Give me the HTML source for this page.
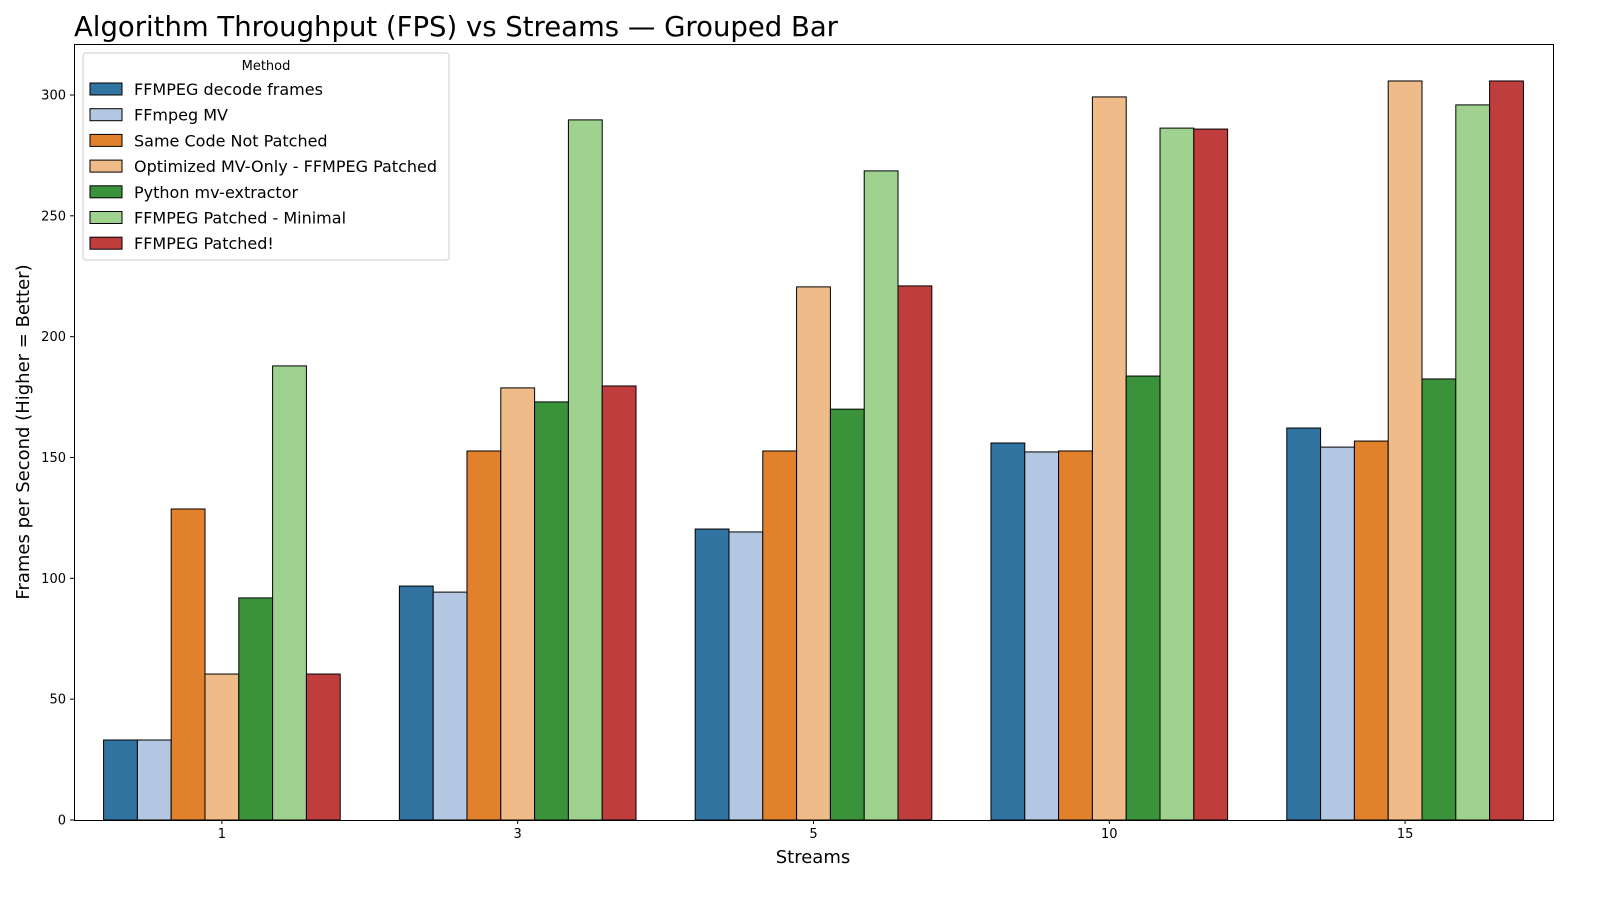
<!DOCTYPE html>
<html><head><meta charset="utf-8"><style>
body{margin:0;background:#fff;font-family:"Liberation Sans","DejaVu Sans",sans-serif;overflow:hidden;}
svg text{font-family:"DejaVu Sans","Liberation Sans",sans-serif;}
</style></head><body>
<svg id="chart" width="1600" height="900" xmlns="http://www.w3.org/2000/svg" style="display:block">
<text x="74" y="36" font-size="27.5" fill="#000">Algorithm Throughput (FPS) vs Streams — Grouped Bar</text>
<g id="bars"></g>
<g id="yaxis"></g>
<g id="xaxis"></g>
<rect x="74.5" y="44.5" width="1479" height="776" fill="none" stroke="#000" stroke-width="1"/>
<text x="813" y="863" font-size="18" text-anchor="middle">Streams</text>
<text transform="translate(29,432) rotate(-90)" font-size="18" text-anchor="middle">Frames per Second (Higher = Better)</text>
<g id="legend"></g>
</svg>
<script>
const categories = ["1","3","5","10","15"];
const seriesNames = ["FFMPEG decode frames","FFmpeg MV","Same Code Not Patched","Optimized MV-Only - FFMPEG Patched","Python mv-extractor","FFMPEG Patched - Minimal","FFMPEG Patched!"];
const sDecode = [33.1,96.8,120.4,156.0,162.2];
const sMV = [33.1,94.3,119.2,152.3,154.3];
const sNotPatched = [128.7,152.7,152.7,152.7,156.8];
const sOptimized = [60.4,178.8,220.6,299.2,305.8];
const sPython = [91.9,173.0,170.0,183.7,182.5];
const sMinimal = [187.9,289.7,268.6,286.3,295.9];
const sPatched = [60.4,179.6,221.0,285.9,305.8];
const yTicks = [0,50,100,150,200,250,300];
const seriesValues = [sDecode,sMV,sNotPatched,sOptimized,sPython,sMinimal,sPatched];
const colors = ["#3274a1","#b3c6e2","#e1812c","#efbb88","#3a923a","#9fd18f","#c03d3e"];
const NS="http://www.w3.org/2000/svg";
const plotL=74,plotR=1553,plotT=44,plotB=820,yMax=321.1;
function y(v){return plotB-(v/yMax)*(plotB-plotT);}
const band=(plotR-plotL)/categories.length;
function xc(i){return plotL+band*(i+0.5);}
const barW=band*0.8/seriesNames.length;
function mk(tag,attrs,parent){const e=document.createElementNS(NS,tag);for(const k in attrs)e.setAttribute(k,attrs[k]);parent.appendChild(e);return e;}
const bars=document.getElementById('bars');
seriesValues.forEach((vals,s)=>{vals.forEach((v,i)=>{
  const x0=xc(i)-band*0.4+s*barW;
  const r=mk('rect',{x:x0,y:y(v),width:barW,height:plotB-y(v),fill:colors[s],stroke:'#000','stroke-width':1},bars);
  
  
});});
const ya=document.getElementById('yaxis');
yTicks.forEach(t=>{
  mk('line',{x1:plotL-4,x2:plotL,y1:y(t),y2:y(t),stroke:'#000'},ya);
  const tx=mk('text',{x:plotL-8,y:y(t)+4.5,'font-size':13,'text-anchor':'end'},ya);
  tx.textContent=t;
  
  
});
const xa=document.getElementById('xaxis');
categories.forEach((c,i)=>{
  mk('line',{x1:xc(i),x2:xc(i),y1:plotB,y2:plotB+4,stroke:'#000'},xa);
  const tx=mk('text',{x:xc(i),y:plotB+18,'font-size':13,'text-anchor':'middle'},xa);
  tx.textContent=c;
  
  
});
const lg=document.getElementById('legend');
mk('rect',{x:83,y:53,width:366,height:207,rx:3,fill:'#fff','fill-opacity':0.8,stroke:'#ccc'},lg);
const lt=mk('text',{x:266,y:70,'font-size':13,'text-anchor':'middle'},lg);
lt.textContent='Method';
seriesNames.forEach((n,s)=>{
  const yy=89+s*25.7;
  const p=mk('rect',{x:90,y:yy-6,width:32,height:12,fill:colors[s],stroke:'#000'},lg);
  
  
  const t=mk('text',{x:134,y:yy+6,'font-size':16},lg);
  t.textContent=n;
  
  
});
</script>
</body></html>
